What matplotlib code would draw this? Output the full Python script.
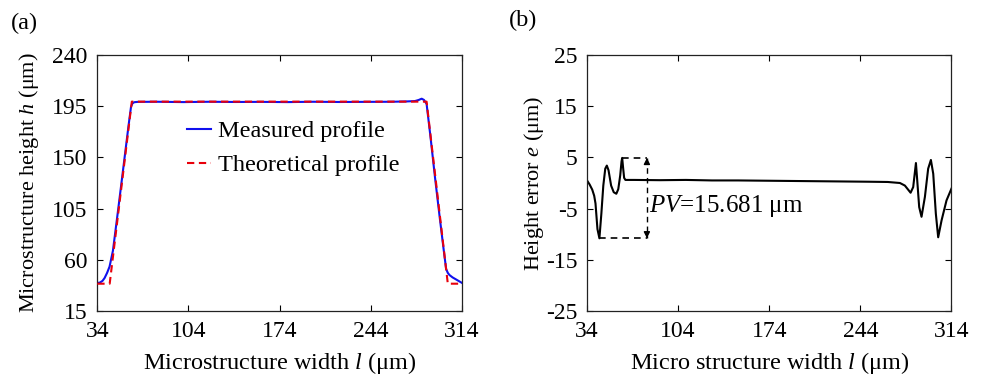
import matplotlib
matplotlib.use("Agg")
import matplotlib.pyplot as plt

plt.rcParams['font.family'] = ['Liberation Serif', 'DejaVu Serif']
plt.rcParams['mathtext.fontset'] = 'custom'
plt.rcParams['mathtext.rm'] = 'Liberation Serif'
plt.rcParams['mathtext.it'] = 'Liberation Serif:italic'
plt.rcParams['axes.unicode_minus'] = False

# ---- data (a) ----
theo_l = [34, 43.5, 60.5, 287, 303.3, 314]
theo_h = [39, 39, 199, 199, 39, 39]

meas_l = [34, 36, 38, 39.6, 41.5, 43.4, 46, 50, 54, 58, 59.9, 61, 62.4, 65, 80, 100, 120,
          140, 160, 180, 200, 220, 240, 260, 272, 278, 281, 283.2, 285, 287, 290, 293.5,
          297, 300, 302, 303.3, 304.6, 307, 310, 314]
meas_h = [39.6, 40, 41.5, 44, 48.5, 54, 68, 104, 141, 178, 194.5, 197.5, 198.5, 198.8, 198.9,
          198.6, 198.9, 198.7, 198.8, 198.6, 198.9, 198.7, 198.8, 198.9, 199.2, 199.5, 200.5,
          201.6, 200.5, 197, 168, 132, 98, 70, 52, 48.5, 46.6, 44.5, 42.5, 39.8]

# ---- data (b) ----
err_l = [34, 36, 38, 39.5, 40.5, 42, 43.5, 45, 46.5, 48, 49.2, 50.5, 52.5, 54.5, 56.5, 58,
         59.5, 60.5, 61, 61.7, 62.5, 63.5, 70, 90, 110, 130, 150, 170, 190, 210, 230, 250,
         265, 274.4, 278.2, 282.6, 284.6, 286.7, 287.7, 289.2, 291, 293.6, 296.1, 298.2,
         300, 302, 303.8, 306.4, 310.2, 314]
err_e = [0.5, -0.3, -1.3, -2.5, -4, -9, -10.8, -6, -0.5, 2.8, 3.4, 2.5, -0.5, -1.8, -2.1, -1.2,
         1.5, 4.2, 4.9, 3, 1, 0.6, 0.6, 0.55, 0.6, 0.5, 0.5, 0.45, 0.4, 0.35, 0.3, 0.25,
         0.2, 0.0, -0.5, -1.9, -0.8, 3.9, 0.5, -4.7, -6.6, -2.7, 2.8, 4.5,
         1.8, -6, -10.6, -7.3, -3.4, -1.1]

pv_max, pv_min = 4.9, -10.8
pv_max_l, pv_min_l, pv_arrow_l = 61, 43.5, 80

x_ticks = [34, 104, 174, 244, 314]
h_ticks = [15, 60, 105, 150, 195, 240]
e_ticks = [-25, -15, -5, 5, 15, 25]

fig = plt.figure(figsize=(9.82, 3.79), dpi=100)
axa = fig.add_axes([0.0991, 0.1794, 0.3711, 0.6755])
axb = fig.add_axes([0.5978, 0.1794, 0.3711, 0.6755])

FS = 17.5
TFS = 17
YFS = 16
for ax in (axa, axb):
    ax.tick_params(direction='in', top=True, right=True, length=4, width=0.8,
                   labelsize=TFS, pad=7)
    for s in ax.spines.values():
        s.set_linewidth(0.9)
        s.set_color('#222222')
    ax.set_xlim(34, 314)
    ax.set_xticks(x_ticks)

axa.plot(theo_l, theo_h, color='#e8000b', lw=1.5, linestyle=(0, (3.5, 2.2)),
         label='Theoretical profile', zorder=3)
axa.plot(meas_l, meas_h, color='#1010ee', lw=1.5, label='Measured profile', zorder=2)
axa.set_ylim(15, 240)
axa.set_yticks(h_ticks)
axa.set_xlabel('Microstructure width $l$ (μm)', fontsize=FS, labelpad=6)
axa.set_ylabel('Microstructure height $h$ (μm)', fontsize=YFS, labelpad=8)
h, lab = axa.get_legend_handles_labels()
axa.legend([h[1], h[0]], [lab[1], lab[0]], loc='upper left', bbox_to_anchor=(0.245, 0.745),
           frameon=False, fontsize=FS, handlelength=1.0, handletextpad=0.3,
           borderaxespad=0, borderpad=0, labelspacing=0.5)

axb.plot(err_l, err_e, color='black', lw=1.5)
axb.set_ylim(-25, 25)
axb.set_yticks(e_ticks)
axb.set_xlabel('Micro structure width $l$ (μm)', fontsize=FS, labelpad=6)
axb.set_ylabel('Height error $e$ (μm)', fontsize=YFS, labelpad=0)
dash = dict(color='black', lw=1.2, linestyle=(0, (4, 3)))
axb.plot([pv_max_l, pv_arrow_l], [pv_max, pv_max], **dash)
axb.plot([pv_min_l, pv_arrow_l], [pv_min, pv_min], **dash)
axb.plot([pv_arrow_l, pv_arrow_l], [pv_max, pv_min], color='black', lw=1.0,
         linestyle=(0, (4, 3)))
axb.annotate('', xy=(pv_arrow_l, pv_max), xytext=(pv_arrow_l, pv_max - 1.2),
             arrowprops=dict(arrowstyle='-|>', color='black', lw=1, mutation_scale=9,
                             shrinkA=0, shrinkB=0))
axb.annotate('', xy=(pv_arrow_l, pv_min), xytext=(pv_arrow_l, pv_min + 1.2),
             arrowprops=dict(arrowstyle='-|>', color='black', lw=1, mutation_scale=9,
                             shrinkA=0, shrinkB=0))
axb.text(pv_arrow_l + 1.5, -4.4, '$PV$=15.681 μm', fontsize=18, va='center', ha='left')

fig.text(0.011, 0.939, '(a)', fontsize=FS, va='center', ha='left')
fig.text(0.518, 0.945, '(b)', fontsize=FS, va='center', ha='left')

fig.savefig('out.png', dpi=100)
